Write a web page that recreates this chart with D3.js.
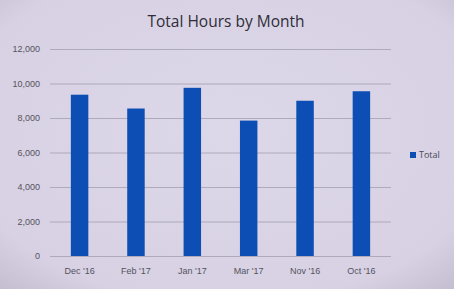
<!DOCTYPE html>
<html>
<head>
<meta charset="utf-8">
<script src="https://d3js.org/d3.v7.min.js"></script>
<style>
    body { margin: 0; background: #d6d0e2; }
    svg { font-family: "Open Sans", "Liberation Sans", sans-serif; }
    .tick text { fill: #55525e; font-size: 9px; }
</style>
</head>
<body>
<script>
    var months = ["Dec '16", "Feb '17", "Jan '17", "Mar '17", "Nov '16", "Oct '16"];
    var totals = [9350, 8550, 9750, 7850, 9000, 9550];
    var yTicks = [0, 2000, 4000, 6000, 8000, 10000, 12000];

    var width = 454, height = 289;
    var margin = {top: 49, right: 63, bottom: 33, left: 50};

    var svg = d3.select('body').append('svg')
        .attr('width', width)
        .attr('height', height);

    // background with soft edges like the photo
    var grad = svg.append('defs').append('radialGradient')
        .attr('id', 'bg').attr('cx', '50%').attr('cy', '45%').attr('r', '75%');
    grad.append('stop').attr('offset', '0%').attr('stop-color', '#ddd8e9');
    grad.append('stop').attr('offset', '80%').attr('stop-color', '#d7d1e3');
    grad.append('stop').attr('offset', '100%').attr('stop-color', '#c4bdd0');
    svg.append('rect').attr('width', width).attr('height', height).attr('fill', 'url(#bg)');

    var x = d3.scaleBand()
        .domain(months)
        .range([margin.left, width - margin.right])
        .paddingInner(0.69)
        .paddingOuter(0.37);

    var y = d3.scaleLinear()
        .domain([0, 12000])
        .range([height - margin.bottom, margin.top]);

    // gridlines + y labels
    var yAxis = svg.append('g')
        .attr('transform', 'translate(' + margin.left + ',0)')
        .call(d3.axisLeft(y).tickValues(yTicks).tickFormat(d3.format(',')).tickSize(-(width - margin.left - margin.right)).tickPadding(10));
    yAxis.select('.domain').remove();
    yAxis.selectAll('.tick line').attr('stroke', '#a39fae').attr('stroke-width', 0.8);

    // bars
    svg.append('g').selectAll('rect')
        .data(totals)
        .enter()
        .append('rect')
        .attr('x', function(d, i){ return x(months[i]); })
        .attr('y', function(d){ return y(d); })
        .attr('width', x.bandwidth())
        .attr('height', function(d){ return y(0) - y(d); })
        .attr('fill', '#0c4eb3');

    // category labels
    var xAxis = svg.append('g')
        .attr('transform', 'translate(0,' + (height - margin.bottom) + ')')
        .call(d3.axisBottom(x).tickSize(0).tickPadding(12));
    xAxis.select('.domain').remove();

    // title
    svg.append('text')
        .attr('x', 226)
        .attr('y', 27)
        .attr('text-anchor', 'middle')
        .attr('font-size', 15.5)
        .attr('fill', '#2f2d38')
        .text('Total Hours by Month');

    // legend
    var legend = svg.append('g').attr('transform', 'translate(410,152)');
    legend.append('rect').attr('width', 6).attr('height', 6).attr('fill', '#0c4eb3');
    legend.append('text')
        .attr('x', 9).attr('y', 6)
        .attr('font-size', 9)
        .attr('fill', '#4a4855')
        .text('Total');
</script>
</body>
</html>
